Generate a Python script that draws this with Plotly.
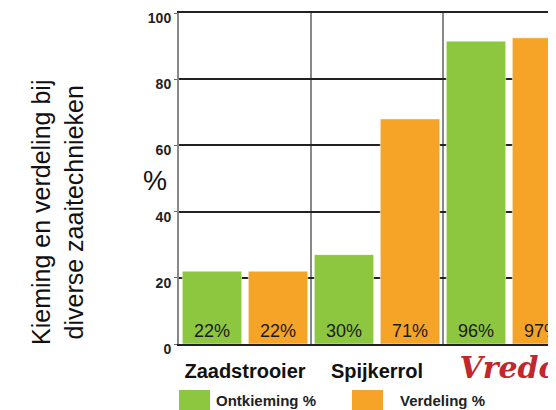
import plotly.graph_objects as go

# ---- data ----
categories = ["Zaadstrooier", "Spijkerrol", "Vredo"]
series_names = ["Ontkieming %", "Verdeling %"]
ontkieming_bar = [22, 27, 91.5]
verdeling_bar = [22, 68, 92.5]
ontkieming_labels = ["22%", "30%", "96%"]
verdeling_labels = ["22%", "71%", "97%"]
y_ticks = [0, 20, 40, 60, 80, 100]
colors = ["#8dc63f", "#f6a428"]

title_text = "Kieming en verdeling bij<br>diverse zaaitechnieken"
y_title = "%"

tick_text = [
    "<b>Zaadstrooier</b>",
    "<b>Spijkerrol</b>",
    "<span style='font-size:30px;color:#c1272d;font-family:\"DejaVu Serif\"'><b><i>Vredo</i></b></span>",
]

# page body has an 8px margin: figure is offset by (8, 8)
OFF = 8
W, H = 556 - OFF, 410 - OFF

fig = go.Figure()
for name, vals, labels, col in [
    (series_names[0], ontkieming_bar, ontkieming_labels, colors[0]),
    (series_names[1], verdeling_bar, verdeling_labels, colors[1]),
]:
    fig.add_trace(go.Bar(
        x=categories, y=vals, name=name,
        marker=dict(color=col, line=dict(color="rgba(255,255,255,0.5)", width=1)),
        text=labels, textposition="inside", insidetextanchor="start",
        textangle=0, constraintext="none",
        textfont=dict(family="Liberation Sans", size=18, color="#1a1a1a"),
        showlegend=False,
    ))

fig.update_layout(
    width=W, height=H,
    margin=dict(l=179 - OFF, r=0, t=13 - OFF, b=410 - 344, autoexpand=False),
    paper_bgcolor="white", plot_bgcolor="white",
    barmode="group", bargap=0.0, bargroupgap=0.1,
    font=dict(family="Liberation Sans", color="#1a1a1a"),
)

fig.update_xaxes(
    type="category", automargin=False,
    range=[-0.5, 2.356],
    tickmode="array", tickvals=categories, ticktext=tick_text,
    tickangle=0,
    tickfont=dict(family="Liberation Sans", size=20, color="#111"),
    showgrid=True, tickson="boundaries", gridcolor="#888", gridwidth=2,
    showline=True, mirror=True, linecolor="#222", linewidth=1.5,
    ticks="", ticklabelstandoff=8,
)
fig.update_yaxes(
    automargin=False,
    range=[0, 100], tickvals=y_ticks,
    tickfont=dict(family="Liberation Sans", size=14, color="#222", weight="bold"),
    showgrid=True, gridcolor="#222", gridwidth=1.5,
    zeroline=False,
    showline=True, linecolor="#888", linewidth=2,
    ticks="outside", ticklen=3, tickcolor="#666",
    ticklabeloverflow="allow", ticklabelshift=5,
)

# plot area in window pixels: x 179..556, y 13..344
def px(xp):
    return (xp - 179) / 377.0

def py(yp):
    return (344 - yp) / 331.0

fig.add_annotation(
    text=title_text, xref="paper", yref="paper", x=px(57), y=py(212),
    showarrow=False, textangle=-90, xanchor="center", yanchor="middle",
    font=dict(family="Liberation Sans", size=25, color="#111"),
)
fig.add_annotation(
    text=y_title, xref="paper", yref="paper", x=px(155), y=py(181),
    showarrow=False, xanchor="center", yanchor="middle",
    font=dict(family="Liberation Sans", size=27, color="#111"),
)

# custom legend
legend_pos = [(179, 214), (352, 398)]
for (sx, tx), name, col in zip(legend_pos, series_names, colors):
    fig.add_shape(type="rect", xref="paper", yref="paper",
                  x0=px(sx), x1=px(sx + 31), y0=py(390), y1=py(414),
                  fillcolor=col, line=dict(width=0))
    fig.add_annotation(
        text="<b>" + name + "</b>", xref="paper", yref="paper",
        x=px(tx), y=py(400), showarrow=False, xanchor="left", yanchor="middle",
        font=dict(family="Liberation Sans", size=15, color="#222"),
    )

fig.write_html("out.html")
